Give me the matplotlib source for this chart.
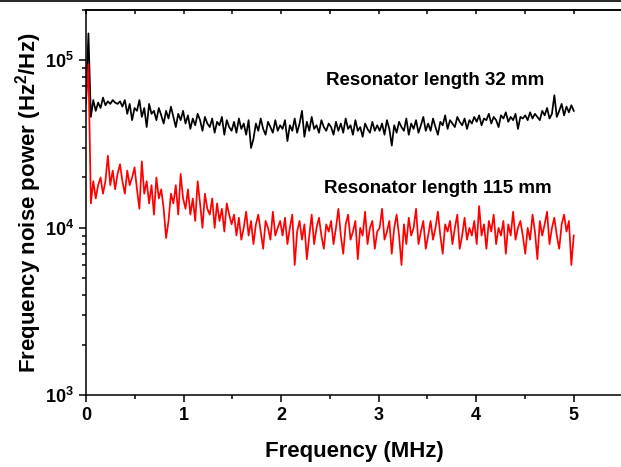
import matplotlib
matplotlib.use("Agg")
import matplotlib.pyplot as plt
import numpy as np
from matplotlib.lines import Line2D
from matplotlib.ticker import FixedLocator, LogLocator, NullFormatter

plt.rcParams["font.family"] = "Liberation Sans"
plt.rcParams["font.weight"] = "bold"
plt.rcParams["axes.labelweight"] = "bold"
plt.rcParams["mathtext.fontset"] = "custom"
plt.rcParams["mathtext.rm"] = "Liberation Sans:bold"
plt.rcParams["mathtext.bf"] = "Liberation Sans:bold"
plt.rcParams["mathtext.default"] = "bf"

noise_32mm = [
    60, 145, 46, 58, 50, 56, 52, 60, 54, 57, 55, 58, 56, 55, 57, 53, 58, 48, 55, 44, 52,
    50, 58, 46, 52, 40, 55, 48, 50, 44, 52, 47, 42, 50, 45, 53, 46, 40, 48, 44, 50,
    42, 47, 39, 45, 41, 48, 44, 38, 46, 42, 40, 45, 37, 43, 41, 46, 36, 44, 40, 38,
    43, 37, 45, 39, 42, 36, 44, 30, 34, 42, 38, 45, 39, 36, 43, 40, 37, 44, 38, 41,
    39, 44, 33, 41, 38, 45, 37, 42, 50, 35, 43, 38, 46, 39, 41, 37, 44, 40, 38, 42,
    40, 36, 43, 38, 42, 37, 45, 39, 41, 36, 44, 38, 40, 35, 42, 39, 37, 43, 38, 41,
    38, 42, 36, 44, 39, 31, 41, 37, 43, 40, 38, 45, 36, 42, 39, 44, 37, 41, 46, 38,
    42, 38, 45, 40, 36, 43, 41, 47, 39, 44, 42, 40, 46, 43, 41, 45, 39, 44, 42, 46,
    43, 47, 41, 45, 44, 48, 42, 46, 44, 40, 47, 45, 49, 43, 46, 44, 48, 39, 46, 45,
    47, 44, 49, 45, 48, 46, 44, 50, 47, 52, 45, 48, 62, 46, 50, 55, 47, 53, 49, 54, 50,
]
noise_115mm = [
    55, 95, 14, 19, 15, 18, 20, 16, 19, 27, 18, 22, 17, 21, 24, 19, 16, 22, 18, 20, 23,
    17, 13, 25, 16, 19, 14, 18, 12, 20, 15, 17, 13, 8.7, 11, 16, 14, 18, 12, 21, 15,
    13, 17, 12, 15, 11, 19, 14, 10, 16, 13, 12, 15, 10, 14, 11, 13, 9.5, 14, 12, 10.5,
    12, 9, 11.5, 8.5, 10, 12.5, 9, 11, 8, 10.5, 12, 9.5, 7.5, 11, 10, 8.5, 12.5, 9, 10, 11,
    9, 11.5, 8, 10, 12, 6, 9.5, 11, 8.5, 10.5, 6.5, 9, 12, 8, 10, 11.5, 9, 7.5, 10.5, 9.5,
    11, 8, 10, 13, 9, 7, 10.5, 12, 8.5, 9.5, 11, 6.5, 10, 9, 12.5, 8, 10, 11, 7.5, 9.5,
    10, 13, 8.5, 9.5, 11, 7, 10, 12, 9, 6, 10.5, 8, 11.5, 9, 10, 13, 8, 9.5, 11, 7.5,
    9, 11, 8.5, 10, 12.5, 9, 7, 10.5, 9.5, 11, 8, 10, 12, 7.5, 9, 11.5, 8.5, 10, 9, 11,
    8, 13.5, 9, 10.5, 7.5, 11, 9.5, 12, 8, 10, 9, 11, 7, 10.5, 9, 12.5, 8.5, 10, 11, 9,
    7, 10, 8.5, 12, 9.5, 6.5, 11, 9, 10.5, 12.5, 8, 10, 11.5, 9, 7.5, 10.5, 12, 9.5, 11, 6, 9,
]
labels = ["Resonator length 32 mm", "Resonator length 115 mm"]

f32 = np.linspace(0, 5, len(noise_32mm))
f115 = np.linspace(0, 5, len(noise_115mm))

fig = plt.figure(figsize=(6.21, 4.67), dpi=100)
ax = fig.add_axes([0.1385, 0.1535, 0.864, 0.825])

ax.plot(f32, np.array(noise_32mm) * 1e3, color="black", lw=1.25)
ax.plot(f115, np.array(noise_115mm) * 1e3, color="red", lw=1.25)

ax.set_yscale("log")
ax.set_xlim(0, 5.5)
ax.set_ylim(1e3, 2e5)

ax.xaxis.set_major_locator(FixedLocator([0, 1, 2, 3, 4, 5]))
ax.xaxis.set_minor_locator(FixedLocator([0.5, 1.5, 2.5, 3.5, 4.5]))
ax.yaxis.set_major_locator(FixedLocator([1e3, 1e4, 1e5]))
ax.set_yticklabels([r"$10^{3}$", r"$10^{4}$", r"$10^{5}$"])
ax.yaxis.set_minor_locator(LogLocator(base=10, subs=np.arange(2, 10)))
ax.yaxis.set_minor_formatter(NullFormatter())

ax.tick_params(which="major", direction="out", length=5, width=1.1, labelsize=13)
ax.tick_params(which="minor", direction="out", length=3, width=1.1)
for s in ax.spines.values():
    s.set_linewidth(1.1)
ax.spines["right"].set_visible(False)

top = ax.secondary_xaxis("top")
top.set_xticks([0, 0.5, 1, 1.5, 2, 2.5, 3, 3.5, 4, 4.5, 5])
top.tick_params(direction="in", length=3, width=1.1, labeltop=False)
top.spines["top"].set_linewidth(1.1)

ax.set_xlabel("Frequency (MHz)", fontsize=16, labelpad=12)
ax.set_ylabel(r"Frequency noise power (Hz$^{2}$/Hz)", fontsize=16, labelpad=1)

ax.text(2.46, 7.1e4, labels[0], fontsize=13.5)
ax.text(2.44, 1.61e4, labels[1], fontsize=13.5)

fig.add_artist(Line2D([0, 1], [0.998, 0.998], color="black", lw=1.2))

fig.savefig("out.png", dpi=100)
